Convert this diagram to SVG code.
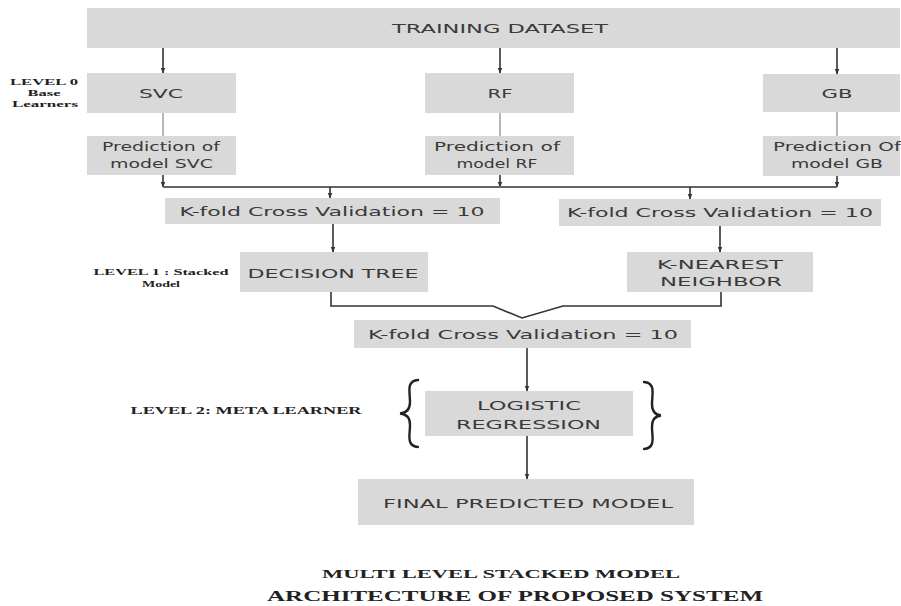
<svg xmlns="http://www.w3.org/2000/svg" width="901" height="606" viewBox="0 0 901 606">
<defs>
<marker id="ah" viewBox="0 0 10 10" refX="9" refY="5" markerWidth="6" markerHeight="6" orient="auto" markerUnits="userSpaceOnUse">
<path d="M0,1 L10,5 L0,9 z" fill="#333"/>
</marker>
</defs>
<style>
.box{fill:#d9d9d9}
.t{font-family:"DejaVu Sans","Liberation Sans",sans-serif;fill:#3a3a3a;text-anchor:middle;font-size:13px}
.lbl{font-family:"Liberation Serif","DejaVu Serif",serif;font-weight:bold;fill:#222;text-anchor:middle}
.c{stroke:#333;stroke-width:1.6;fill:none}
.g{stroke:#888;stroke-width:1.2;fill:none}
.br{stroke:#222;stroke-width:2.4;fill:none;stroke-linecap:round}
</style>
<rect width="901" height="606" fill="#fff"/>

<g id="train"><rect class="box" x="87" y="8" width="813" height="40"/><text class="t" x="500" y="33" textLength="216" lengthAdjust="spacingAndGlyphs">TRAINING DATASET</text></g>
<g id="svc"><rect class="box" x="87" y="73" width="149" height="40"/><text class="t" x="161" y="98" textLength="44" lengthAdjust="spacingAndGlyphs">SVC</text></g>
<g id="rf"><rect class="box" x="425" y="73" width="149" height="40"/><text class="t" x="500" y="98" textLength="25" lengthAdjust="spacingAndGlyphs">RF</text></g>
<g id="gb"><rect class="box" x="763" y="74" width="137" height="38"/><text class="t" x="837" y="98" textLength="31" lengthAdjust="spacingAndGlyphs">GB</text></g>

<g id="predsvc"><rect class="box" x="87" y="136" width="149" height="39"/><text class="t" x="161" y="151" font-size="12" textLength="118" lengthAdjust="spacingAndGlyphs">Prediction of</text><text class="t" x="161.5" y="168" font-size="12" textLength="103" lengthAdjust="spacingAndGlyphs">model SVC</text></g>
<g id="predrf"><rect class="box" x="425" y="136" width="149" height="39"/><text class="t" x="497" y="151" font-size="12" textLength="126" lengthAdjust="spacingAndGlyphs">Prediction of</text><text class="t" x="497" y="168" font-size="12" textLength="81" lengthAdjust="spacingAndGlyphs">model RF</text></g>
<g id="predgb"><rect class="box" x="763" y="136" width="137" height="40"/><text class="t" x="837" y="151" font-size="12" textLength="128" lengthAdjust="spacingAndGlyphs">Prediction Of</text><text class="t" x="837" y="168" font-size="12" textLength="92" lengthAdjust="spacingAndGlyphs">model GB</text></g>

<g id="kf1"><rect class="box" x="165" y="198" width="335" height="26"/><text class="t" x="332" y="216" font-size="14" textLength="305" lengthAdjust="spacingAndGlyphs">K-fold Cross Validation = 10</text></g>
<g id="kf2"><rect class="box" x="559" y="199" width="322" height="27"/><text class="t" x="720" y="217" font-size="14" textLength="306" lengthAdjust="spacingAndGlyphs">K-fold Cross Validation = 10</text></g>

<g id="dt"><rect class="box" x="240" y="252" width="188" height="40"/><text class="t" x="333" y="278" font-size="15" textLength="171" lengthAdjust="spacingAndGlyphs">DECISION TREE</text></g>
<g id="knn"><rect class="box" x="627" y="252" width="186" height="40"/><text class="t" x="720" y="269" textLength="126" lengthAdjust="spacingAndGlyphs">K-NEAREST</text><text class="t" x="721" y="286" textLength="122" lengthAdjust="spacingAndGlyphs">NEIGHBOR</text></g>

<g id="kf3"><rect class="box" x="354" y="320" width="337" height="28"/><text class="t" x="523" y="339" font-size="14" textLength="310" lengthAdjust="spacingAndGlyphs">K-fold Cross Validation = 10</text></g>

<g id="lr"><rect class="box" x="425" y="391" width="208" height="45"/><text class="t" x="529" y="410" textLength="104" lengthAdjust="spacingAndGlyphs">LOGISTIC</text><text class="t" x="528.5" y="429" textLength="145" lengthAdjust="spacingAndGlyphs">REGRESSION</text></g>
<g id="final"><rect class="box" x="358" y="479" width="336" height="46"/><text class="t" x="528" y="508" font-size="15" textLength="290" lengthAdjust="spacingAndGlyphs">FINAL PREDICTED MODEL</text></g>

<g id="braces">
<path class="br" d="M418,380 C406,381 410,392 410,402 C410,409 407,413 400,413.5 C407,414 410,418 410,425 C410,435 406,446 418,447"/>
<path class="br" d="M644,382 C656,383 652,394 652,404 C652,411 655,415 661,415.5 C655,416 652,420 652,427 C652,437 656,448 644,449"/>
</g>

<g id="labels">
<text class="lbl" x="44" y="85" font-size="9" textLength="68" lengthAdjust="spacingAndGlyphs">LEVEL 0</text>
<text class="lbl" x="44" y="96" font-size="9" textLength="33" lengthAdjust="spacingAndGlyphs">Base</text>
<text class="lbl" x="45" y="107" font-size="9" textLength="66" lengthAdjust="spacingAndGlyphs">Learners</text>
<text class="lbl" x="161" y="275" font-size="9" textLength="135" lengthAdjust="spacingAndGlyphs">LEVEL 1 : Stacked</text>
<text class="lbl" x="161" y="287" font-size="9" textLength="38" lengthAdjust="spacingAndGlyphs">Model</text>
<text class="lbl" x="246" y="414" font-size="10" textLength="231" lengthAdjust="spacingAndGlyphs">LEVEL 2: META LEARNER</text>
<text class="lbl" x="501" y="578" font-size="13" textLength="358" lengthAdjust="spacingAndGlyphs">MULTI LEVEL STACKED MODEL</text>
<text class="lbl" x="515" y="601" font-size="14" textLength="496" lengthAdjust="spacingAndGlyphs">ARCHITECTURE OF PROPOSED SYSTEM</text>
</g>

<g id="connectors">
<line class="c" x1="163" y1="48" x2="163" y2="73" marker-end="url(#ah)"/>
<line class="c" x1="500" y1="48" x2="500" y2="73" marker-end="url(#ah)"/>
<line class="c" x1="837" y1="48" x2="837" y2="74" marker-end="url(#ah)"/>
<line class="g" x1="163" y1="113" x2="163" y2="136"/>
<line class="g" x1="500" y1="113" x2="500" y2="136"/>
<line class="g" x1="837" y1="112" x2="837" y2="136"/>
<line class="c" x1="163" y1="175" x2="163" y2="187" marker-end="url(#ah)"/>
<line class="c" x1="500" y1="175" x2="500" y2="187" marker-end="url(#ah)"/>
<line class="c" x1="837" y1="176" x2="837" y2="187" marker-end="url(#ah)"/>
<line x1="163" y1="187" x2="837" y2="187" stroke="#666" stroke-width="1.8"/>
<line class="c" x1="330" y1="187" x2="330" y2="198" marker-end="url(#ah)"/>
<line class="c" x1="690" y1="187" x2="690" y2="199" marker-end="url(#ah)"/>
<line class="c" x1="333" y1="224" x2="333" y2="252" marker-end="url(#ah)"/>
<line class="c" x1="720" y1="226" x2="720" y2="252" marker-end="url(#ah)"/>
<polyline class="c" points="331,292 331,306 493,306 522,318 563,306 721,306 721,292"/>
<line class="c" x1="527" y1="348" x2="527" y2="391" marker-end="url(#ah)"/>
<line class="c" x1="527" y1="436" x2="527" y2="479" marker-end="url(#ah)"/>
</g>
</svg>
